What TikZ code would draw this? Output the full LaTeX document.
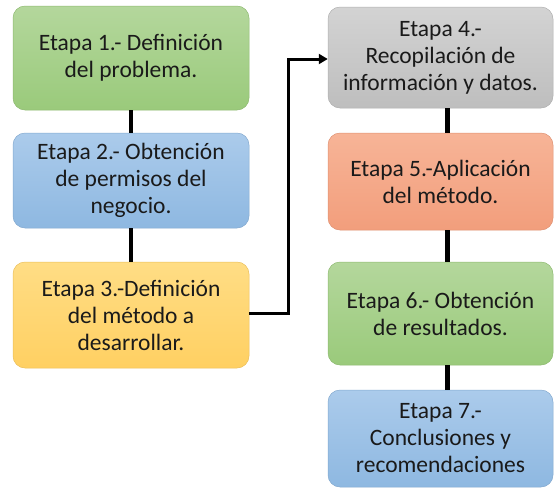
\documentclass[tikz,border=0pt]{standalone}
\usepackage{fontspec}
\setmainfont{Carlito}
\usetikzlibrary{arrows.meta}
\definecolor{gA}{HTML}{B4D79C}\definecolor{gB}{HTML}{9ACA7B}
\definecolor{bA}{HTML}{ABCBEB}\definecolor{bB}{HTML}{8EB8E1}
\definecolor{yA}{HTML}{FFDD85}\definecolor{yB}{HTML}{FFD062}
\definecolor{rA}{HTML}{F7B497}\definecolor{rB}{HTML}{F29E7C}
\definecolor{kA}{HTML}{D3D3D3}\definecolor{kB}{HTML}{BEBEBE}
\definecolor{txt}{HTML}{1A1A1A}
\tikzset{
  stepbox/.style={rectangle, rounded corners=12pt, align=center, inner sep=0pt,
    font=\fontsize{23.5}{27}\selectfont, text=txt, line width=0.5pt},
  green/.style={stepbox, top color=gA, bottom color=gB, draw=gB!92!black},
  blue/.style={stepbox, top color=bA, bottom color=bB, draw=bB!92!black},
  yell/.style={stepbox, top color=yA, bottom color=yB, draw=yB!92!black},
  salm/.style={stepbox, top color=rA, bottom color=rB, draw=rB!92!black},
  gray/.style={stepbox, top color=kA, bottom color=kB, draw=kB!92!black},
  link/.style={line width=4.5pt, draw=black},
  elbow/.style={line width=3pt, draw=black, -{Triangle[length=9pt,width=10pt]}},
}
\begin{document}
\begin{tikzpicture}[x=1pt,y=1pt]
\useasboundingbox (0,0) rectangle (555,-488);
% left column
\node[green, minimum width=236pt, minimum height=104pt] (n1) at (131,-58) {Etapa 1.- Definición\\del problema.};
\node[blue, minimum width=236pt, minimum height=95pt] (n2) at (131,-180.5) {Etapa 2.- Obtención\\de permisos del\\negocio.};
\node[yell, minimum width=236pt, minimum height=106pt] (n3) at (131,-315) {Etapa 3.-Definición\\del método a\\desarrollar.};
% right column
\node[gray, minimum width=225pt, minimum height=101pt] (n4) at (440.5,-57.5) {Etapa 4.-\\Recopilación de\\información y datos.};
\node[salm, minimum width=225pt, minimum height=97pt] (n5) at (440.5,-181.5) {Etapa 5.-Aplicación\\del método.};
\node[green, minimum width=225pt, minimum height=103pt] (n6) at (440.5,-313.5) {Etapa 6.- Obtención\\de resultados.};
\node[blue, minimum width=225pt, minimum height=97pt] (n7) at (440.5,-438.5) {Etapa 7.-\\Conclusiones y\\recomendaciones};
% connectors
\draw[link] (n1.south) -- (n2.north);
\draw[link] (n2.south) -- (n3.north);
\draw[link] ([xshift=7pt]n4.south) -- ([xshift=7pt]n5.north);
\draw[link] ([xshift=7pt]n5.south) -- ([xshift=7pt]n6.north);
\draw[link] ([xshift=7pt]n6.south) -- ([xshift=7pt]n7.north);
\coordinate (bend) at (288,-313);
\draw[elbow] ([yshift=2pt]n3.east) -- (bend) |- ([yshift=-1.5pt]n4.west);
\end{tikzpicture}
\end{document}
